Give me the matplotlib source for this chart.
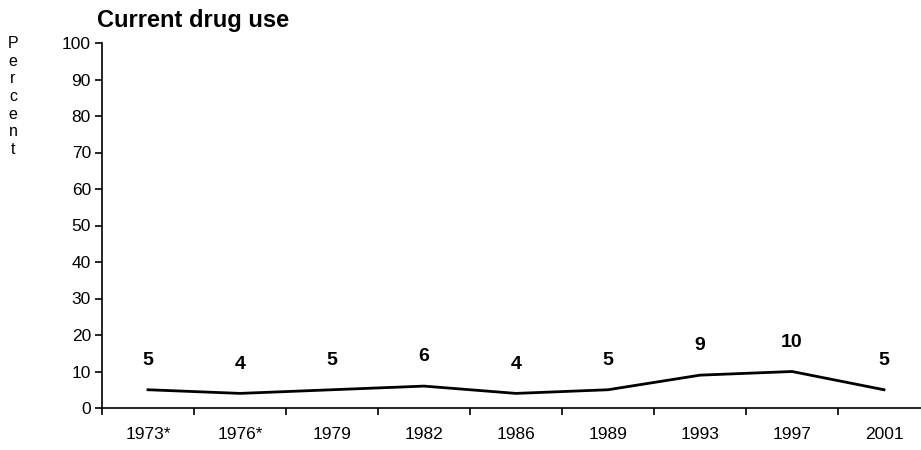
import numpy as np
import matplotlib

matplotlib.use("Agg")

import matplotlib.pyplot as plt

plt.rcParams["font.family"] = ["Liberation Sans", "DejaVu Sans"]

years = ["1973*", "1976*", "1979", "1982", "1986", "1989", "1993", "1997", "2001"]
current_use = [5, 4, 5, 6, 4, 5, 9, 10, 5]
y_ticks = [0, 10, 20, 30, 40, 50, 60, 70, 80, 90, 100]

fig = plt.figure(figsize=(9.21, 4.5), dpi=100)
# category axis runs slightly past the right edge of the canvas
ax = fig.add_axes([102 / 921, 1 - 408 / 450, 828 / 921, 365 / 450])

x = np.arange(len(years))
ax.plot(x, current_use, color="black", linewidth=2.0, solid_joinstyle="round")
for xi, v in zip(x, current_use):
    ax.annotate(str(v), (xi, v), xytext=(0, 21), textcoords="offset points",
                ha="center", va="center", fontsize=14, fontweight="bold")

ax.set_xlim(-0.5, len(years) - 0.5)
ax.set_ylim(0, 100)
ax.set_yticks(y_ticks)
ax.set_xticks(x)
ax.set_xticklabels(years)
ax.set_xticks(np.arange(len(years) + 1) - 0.5, minor=True)
ax.tick_params(axis="x", which="major", length=0, pad=14, labelsize=12.5)
ax.tick_params(axis="x", which="minor", length=5, width=1.2, direction="out")
ax.tick_params(axis="y", length=5, width=1.2, direction="out", pad=3, labelsize=12.5)

for side in ("top", "right"):
    ax.spines[side].set_visible(False)
for side in ("left", "bottom"):
    ax.spines[side].set_linewidth(1.2)

fig.text(97 / 921, 1 - 20 / 450, "Current drug use", fontsize=17, fontweight="bold",
         ha="left", va="center")
fig.text(13 / 921, 1 - 36 / 450, "\n".join("Percent"), fontsize=11.5, ha="center",
         va="top", linespacing=1.22)

fig.savefig("out.png", dpi=100)
